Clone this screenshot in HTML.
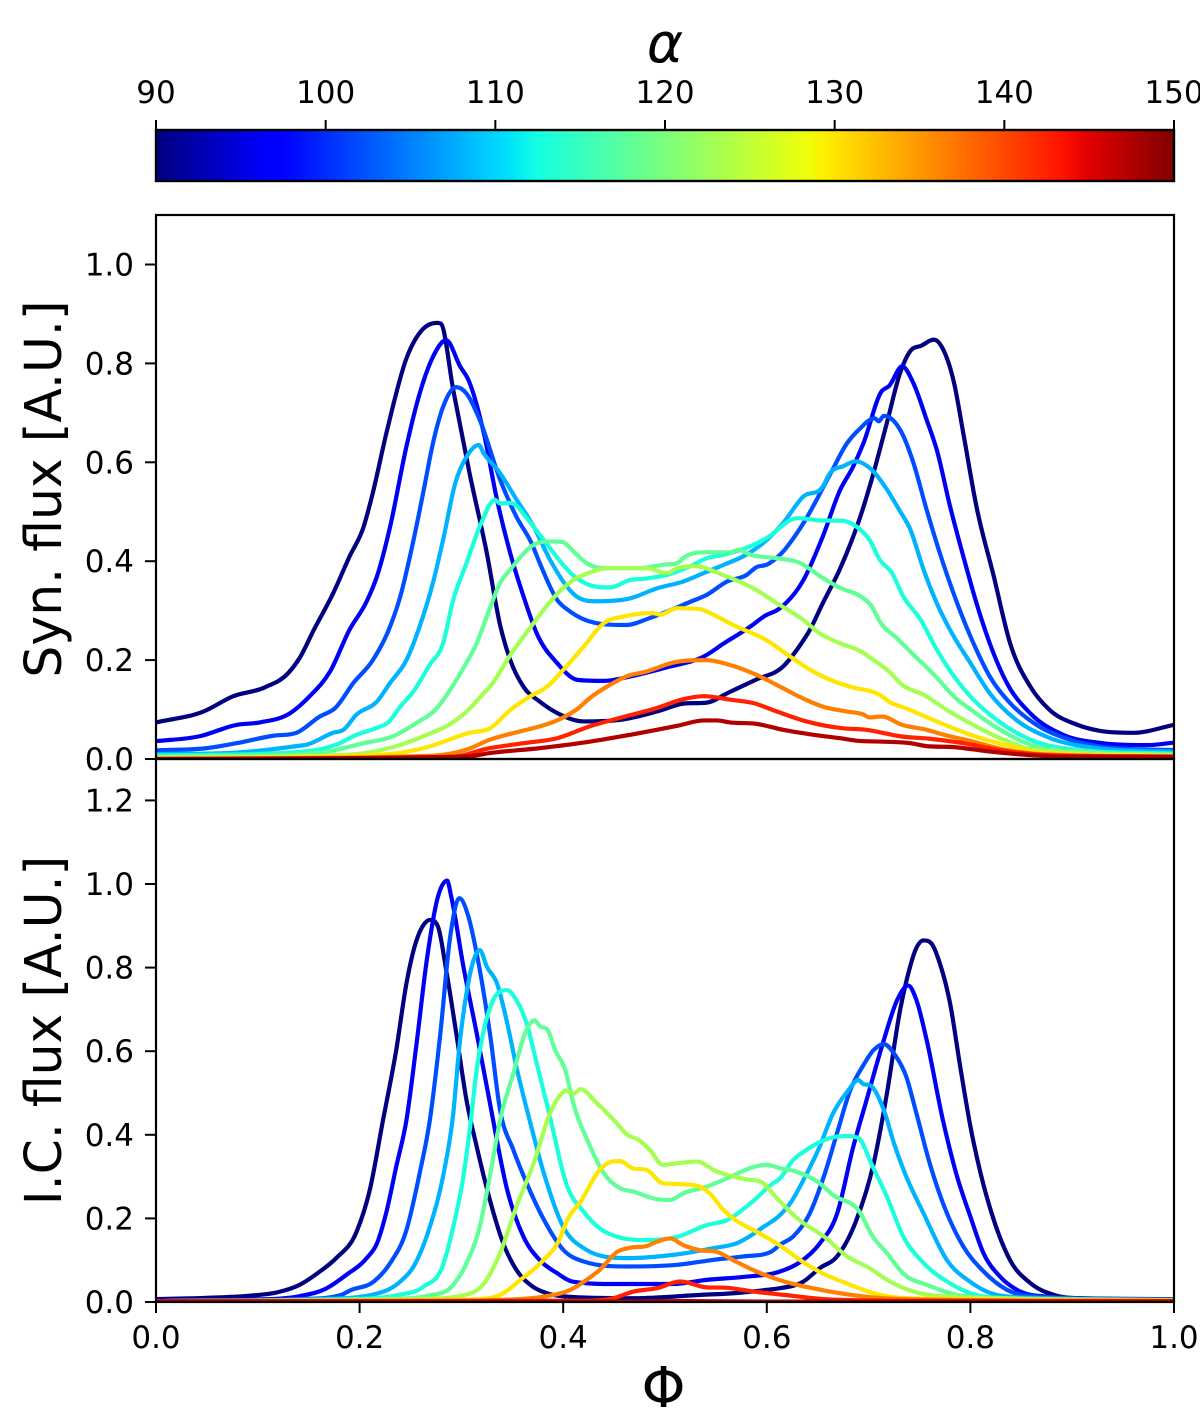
<!DOCTYPE html>
<html lang="en">
<head>
<meta charset="utf-8">
<title>Synchrotron and inverse Compton light curves</title>
<style>
html,body{margin:0;padding:0;background:#fff;width:1200px;height:1409px;overflow:hidden}
svg{display:block}
text{font-family:"DejaVu Sans","Liberation Sans",sans-serif;fill:#000}
</style>
</head>
<body>
<svg id="figure" xmlns="http://www.w3.org/2000/svg" width="1200" height="1409" viewBox="0 0 1200 1409">
<defs>
<linearGradient id="jetGradient" x1="0" x2="1" y1="0" y2="0"></linearGradient>
<clipPath id="clipTop"><rect x="156" y="215" width="1018" height="544"/></clipPath>
<clipPath id="clipBottom"><rect x="156" y="759" width="1018" height="543"/></clipPath>
</defs>
<rect x="0" y="0" width="1200" height="1409" fill="#fff"/>
<text x="665" y="62" font-size="55" font-style="italic" text-anchor="middle">α</text>
<rect x="156" y="130" width="1018" height="51" fill="url(#jetGradient)" stroke="#000" stroke-width="2.4"/>
<g id="colorbarTicks"></g>
<g id="synSeries" clip-path="url(#clipTop)" fill="none" stroke-width="4.2" stroke-linejoin="round" stroke-linecap="round"></g>
<g id="icSeries" clip-path="url(#clipBottom)" fill="none" stroke-width="4.2" stroke-linejoin="round" stroke-linecap="round"></g>
<rect x="156" y="215" width="1018" height="544" fill="none" stroke="#000" stroke-width="2.2"/>
<rect x="156" y="759" width="1018" height="543" fill="none" stroke="#000" stroke-width="2.2"/>
<g id="synTicks"></g>
<g id="icTicks"></g>
<g id="xTicks"></g>
<text transform="translate(61,489) rotate(-90)" font-size="50.4" text-anchor="middle">Syn. flux [A.U.]</text>
<text transform="translate(61,1030.5) rotate(-90)" font-size="50.4" text-anchor="middle">I.C. flux [A.U.]</text>
<text x="663.5" y="1407" font-size="56" text-anchor="middle">Φ</text>
</svg>
<script>
// Viewing-angle value of each curve
const alphas = [90, 96, 102, 108, 113, 118, 123, 130, 136.5, 142.5, 147.5];
const colorbarTickValues = [90, 100, 110, 120, 130, 140, 150];
const xTickValues = [0, 0.2, 0.4, 0.6, 0.8, 1.0];
const synTickValues = [0, 0.2, 0.4, 0.6, 0.8, 1.0];
const icTickValues = [0, 0.2, 0.4, 0.6, 0.8, 1.0, 1.2];

// Synchrotron panel: phase and flux
const synPhi90 = [0,.0465,.076,.107,.13,.141,.155,.174,.19,.204,.212,.227,.246,.263,.276,.28,.292,.308,.325,.338,.348,.361,.377,.394,.42,.459,.492,.518,.541,.564,.59,.616,.632,.642,.655,.672,.692,.703,.718,.731,.741,.752,.764,.774,.784,.793,.806,.823,.839,.859,.878,.904,.927,.96,1];
const synFlux90 = [.074,.096,.127,.145,.174,.204,.261,.335,.409,.47,.53,.665,.81,.871,.882,.88,.746,.578,.416,.271,.2,.146,.116,.093,.076,.08,.096,.112,.114,.136,.161,.187,.228,.26,.315,.385,.491,.565,.68,.781,.825,.836,.848,.825,.76,.659,.51,.369,.234,.146,.099,.07,.057,.053,.069];
const synPhi96 = [0,.043,.079,.102,.132,.151,.171,.19,.207,.217,.23,.246,.259,.272,.285,.299,.307,.322,.335,.348,.361,.374,.394,.414,.44,.466,.505,.538,.558,.584,.597,.613,.636,.655,.672,.685,.695,.713,.72,.733,.744,.757,.767,.78,.793,.806,.819,.836,.859,.891,.93,.973,1];
const synFlux96 = [.036,.046,.069,.074,.093,.127,.177,.261,.319,.369,.47,.632,.739,.813,.847,.793,.766,.659,.524,.416,.329,.254,.194,.16,.158,.167,.187,.207,.234,.268,.288,.305,.362,.45,.544,.592,.639,.744,.754,.794,.76,.686,.625,.511,.41,.315,.234,.153,.092,.049,.032,.028,.033];
const synPhi102 = [0,.05,.079,.115,.138,.161,.176,.194,.213,.228,.24,.253,.263,.272,.282,.295,.305,.318,.338,.354,.369,.377,.394,.407,.43,.462,.485,.525,.541,.561,.58,.59,.6,.613,.636,.662,.679,.69,.706,.71,.715,.733,.744,.757,.77,.787,.803,.819,.839,.865,.898,.941,1];
const synFlux102 = [.0175,.022,.032,.047,.053,.086,.103,.154,.2,.258,.329,.443,.544,.638,.712,.752,.739,.686,.565,.49,.436,.396,.322,.298,.276,.271,.285,.318,.332,.359,.372,.388,.393,.413,.477,.575,.639,.665,.689,.683,.694,.658,.599,.504,.416,.315,.234,.167,.113,.069,.039,.022,.018];
const synPhi108 = [0,.07,.138,.148,.174,.184,.197,.217,.23,.246,.259,.272,.282,.294,.305,.317,.322,.338,.354,.371,.387,.413,.433,.466,.492,.518,.538,.558,.577,.6,.616,.636,.655,.662,.675,.687,.703,.718,.73,.741,.754,.767,.78,.8,.819,.845,.875,.924,1];
const synFlux108 = [.01,.012,.026,.029,.053,.059,.09,.116,.154,.2,.268,.356,.443,.558,.611,.635,.618,.578,.525,.47,.403,.329,.319,.325,.345,.359,.376,.393,.41,.443,.477,.531,.551,.578,.592,.602,.585,.545,.504,.464,.383,.315,.261,.194,.133,.079,.045,.022,.015];
const synPhi113 = [0,.145,.177,.197,.217,.228,.24,.253,.269,.282,.292,.305,.318,.333,.338,.348,.367,.383,.413,.423,.446,.466,.482,.505,.525,.541,.558,.587,.6,.63,.656,.672,.69,.701,.711,.723,.734,.751,.767,.784,.803,.826,.859,.908,1];
const synFlux113 = [.007,.015,.029,.049,.063,.074,.106,.137,.191,.234,.322,.396,.47,.524,.517,.518,.48,.437,.366,.354,.347,.362,.365,.374,.39,.406,.413,.433,.447,.487,.482,.482,.467,.443,.403,.376,.329,.282,.221,.167,.12,.079,.039,.018,.011];
const synPhi118 = [0,.158,.204,.233,.256,.276,.289,.302,.315,.328,.338,.348,.371,.384,.399,.41,.423,.44,.473,.499,.512,.519,.538,.564,.572,.584,.61,.632,.655,.672,.692,.703,.711,.728,.744,.766,.784,.803,.826,.859,.908,1];
const synFlux118 = [.004,.012,.032,.046,.073,.103,.14,.184,.234,.305,.356,.383,.433,.44,.439,.42,.396,.386,.386,.393,.396,.408,.418,.418,.423,.413,.406,.397,.366,.346,.329,.309,.278,.244,.211,.167,.126,.096,.063,.029,.015,.008];
const synPhi123 = [0,.191,.236,.272,.285,.305,.322,.328,.348,.371,.39,.41,.426,.443,.482,.502,.512,.529,.557,.587,.61,.636,.652,.672,.692,.705,.72,.733,.754,.777,.8,.826,.865,1];
const synFlux123 = [.003,.009,.026,.054,.066,.096,.133,.146,.21,.275,.325,.362,.377,.386,.386,.376,.386,.39,.372,.345,.315,.281,.254,.234,.218,.2,.177,.15,.13,.099,.072,.045,.018,.008];
const synPhi130 = [0,.223,.263,.308,.328,.348,.367,.384,.4,.42,.44,.459,.488,.495,.512,.534,.551,.567,.6,.623,.643,.659,.682,.713,.72,.736,.767,.8,.833,.875,1];
const synFlux130 = [.001,.009,.022,.053,.062,.099,.126,.146,.18,.227,.275,.288,.295,.292,.305,.303,.288,.271,.24,.207,.18,.163,.146,.127,.116,.103,.076,.049,.029,.012,.006];
const synPhi137 = [0,.272,.305,.328,.358,.377,.394,.415,.426,.446,.462,.482,.508,.541,.564,.59,.616,.635,.655,.679,.695,.701,.713,.733,.757,.774,.803,.833,.891,1];
const synFlux137 = [0,.007,.019,.039,.056,.066,.078,.103,.123,.15,.167,.177,.195,.2,.19,.17,.143,.123,.106,.096,.09,.084,.086,.069,.059,.049,.035,.019,.008,.005];
const synPhi143 = [0,.289,.328,.361,.394,.426,.459,.492,.518,.538,.564,.587,.61,.639,.675,.698,.716,.731,.76,.793,.826,.875,1];
const synFlux143 = [0,.004,.022,.032,.042,.066,.085,.103,.121,.127,.12,.113,.096,.076,.062,.059,.052,.046,.041,.032,.019,.008,.005];
const synPhi148 = [0,.305,.328,.377,.426,.466,.512,.538,.551,.564,.59,.616,.646,.672,.688,.715,.741,.757,.784,.819,.891,1];
const synFlux148 = [0,.005,.012,.022,.035,.049,.067,.078,.078,.074,.071,.059,.049,.042,.037,.035,.032,.026,.024,.015,.005,.004];

// Inverse Compton panel: phase and flux
const icPhi90 = [0,.05,.092,.119,.141,.161,.177,.197,.21,.223,.236,.246,.254,.264,.269,.277,.285,.295,.305,.315,.328,.341,.354,.37,.384,.403,.469,.535,.567,.6,.613,.636,.652,.669,.688,.705,.718,.731,.739,.746,.754,.762,.77,.78,.79,.8,.81,.823,.839,.859,.882,.908,1];
const icFlux90 = [.007,.01,.015,.023,.041,.073,.105,.168,.268,.435,.603,.762,.85,.906,.914,.898,.795,.642,.483,.372,.244,.141,.077,.037,.021,.013,.009,.017,.021,.029,.033,.049,.081,.109,.196,.332,.499,.699,.786,.842,.865,.857,.81,.715,.563,.42,.308,.196,.1,.045,.017,.009,.007];
const icPhi96 = [0,.092,.141,.167,.187,.207,.217,.226,.236,.246,.256,.266,.277,.286,.29,.302,.315,.328,.345,.361,.377,.394,.409,.453,.508,.541,.577,.613,.633,.652,.669,.685,.698,.715,.728,.739,.747,.757,.773,.786,.8,.813,.829,.849,.875,.908,1];
const icFlux96 = [.004,.006,.014,.032,.065,.105,.14,.212,.324,.435,.619,.818,.97,1.008,.97,.802,.643,.476,.268,.156,.1,.069,.049,.043,.043,.053,.06,.073,.096,.14,.211,.372,.483,.627,.722,.757,.722,.627,.435,.308,.204,.116,.061,.025,.013,.009,.006];
const icPhi102 = [0,.141,.181,.191,.214,.23,.246,.259,.269,.279,.289,.298,.307,.315,.328,.338,.351,.364,.381,.4,.42,.463,.512,.548,.577,.604,.613,.626,.642,.656,.669,.682,.695,.705,.715,.726,.737,.747,.76,.777,.793,.813,.836,.868,1];
const icFlux102 = [.002,.007,.016,.028,.049,.093,.172,.308,.435,.635,.874,.966,.921,.834,.643,.459,.364,.285,.197,.125,.097,.085,.089,.101,.109,.12,.137,.157,.211,.3,.404,.507,.567,.603,.617,.591,.539,.451,.332,.212,.133,.073,.029,.013,.005];
const icPhi108 = [0,.158,.217,.24,.254,.269,.282,.292,.298,.305,.312,.318,.325,.335,.345,.354,.367,.381,.4,.42,.463,.509,.548,.571,.597,.613,.623,.636,.652,.665,.679,.69,.695,.701,.715,.725,.737,.754,.777,.8,.826,.875,1];
const icFlux108 = [.002,.007,.02,.049,.089,.18,.301,.451,.611,.739,.818,.842,.802,.762,.667,.563,.435,.308,.18,.129,.105,.113,.129,.141,.18,.208,.236,.292,.372,.451,.503,.531,.521,.519,.459,.379,.3,.212,.1,.048,.017,.009,.005];
const icPhi113 = [0,.19,.236,.263,.282,.292,.302,.309,.315,.322,.333,.345,.354,.364,.374,.387,.403,.42,.436,.453,.479,.512,.541,.561,.584,.604,.613,.626,.636,.649,.662,.678,.69,.704,.718,.734,.754,.777,.8,.842,1];
const icFlux113 = [.002,.007,.016,.037,.089,.18,.301,.428,.555,.65,.73,.746,.722,.667,.571,.443,.283,.216,.176,.156,.148,.156,.184,.196,.236,.28,.296,.34,.359,.379,.392,.397,.392,.324,.252,.157,.093,.049,.021,.009,.005];
const icPhi118 = [0,.223,.269,.292,.305,.318,.328,.338,.351,.364,.372,.377,.385,.392,.402,.41,.425,.44,.456,.469,.492,.505,.518,.541,.561,.59,.6,.613,.629,.652,.665,.691,.704,.718,.734,.757,.787,.826,1];
const icFlux118 = [.002,.007,.016,.041,.093,.18,.301,.435,.547,.651,.674,.66,.65,.603,.555,.475,.38,.308,.272,.264,.246,.244,.26,.276,.296,.325,.328,.32,.312,.284,.256,.216,.157,.117,.068,.041,.017,.009,.004];
const icPhi123 = [0,.256,.302,.322,.338,.354,.371,.387,.397,.403,.41,.417,.433,.451,.463,.474,.485,.498,.512,.531,.551,.581,.594,.61,.633,.656,.679,.701,.718,.744,.777,1];
const icFlux123 = [.002,.007,.016,.044,.117,.228,.332,.451,.495,.506,.498,.509,.476,.432,.4,.388,.364,.328,.332,.336,.312,.293,.288,.248,.194,.157,.109,.081,.053,.025,.013,.004];
const icPhi130 = [0,.305,.338,.358,.381,.396,.404,.417,.438,.448,.456,.468,.482,.498,.515,.534,.544,.556,.567,.593,.616,.633,.652,.679,.705,.738,1];
const icFlux130 = [.002,.006,.017,.053,.101,.148,.196,.24,.322,.336,.337,.32,.316,.284,.282,.276,.26,.224,.2,.164,.13,.1,.072,.044,.021,.009,.004];
const icPhi137 = [0,.3,.338,.381,.407,.423,.436,.453,.466,.482,.492,.505,.518,.534,.551,.567,.587,.617,.639,.662,.7,.75,1];
const icFlux137 = [.002,.003,.005,.013,.029,.053,.077,.12,.13,.134,.144,.152,.136,.124,.12,.1,.076,.049,.036,.025,.012,.006,.003];
const icPhi143 = [0,.42,.449,.469,.492,.515,.541,.561,.587,.617,.662,.75,1];
const icFlux143 = [.002,.003,.009,.025,.033,.049,.035,.034,.025,.017,.006,.003,.002];
const icPhi148 = [0,.45,.52,.6,1];
const icFlux148 = [.001,.001,.002,.001,.001];

const synPhis = [synPhi90,synPhi96,synPhi102,synPhi108,synPhi113,synPhi118,synPhi123,synPhi130,synPhi137,synPhi143,synPhi148];
const synFluxes = [synFlux90,synFlux96,synFlux102,synFlux108,synFlux113,synFlux118,synFlux123,synFlux130,synFlux137,synFlux143,synFlux148];
const icPhis = [icPhi90,icPhi96,icPhi102,icPhi108,icPhi113,icPhi118,icPhi123,icPhi130,icPhi137,icPhi143,icPhi148];
const icFluxes = [icFlux90,icFlux96,icFlux102,icFlux108,icFlux113,icFlux118,icFlux123,icFlux130,icFlux137,icFlux143,icFlux148];

const SVGNS = 'http://www.w3.org/2000/svg';
const plotLeft = 156, plotWidth = 1018;
function xScale(phi){ return plotLeft + plotWidth * phi; }
function alphaScale(a){ return plotLeft + plotWidth * (a - 90) / 60; }
function ySyn(v){ return 759 - 494.5 * v; }
function yIc(v){ return 1302 - 418 * v; }

function interp(knots, t){
  for (let i = 1; i < knots.length; i++) {
    if (t <= knots[i][0]) {
      const a = knots[i-1], b = knots[i];
      return a[1] + (b[1]-a[1]) * (t-a[0]) / (b[0]-a[0]);
    }
  }
  return knots[knots.length-1][1];
}
const jetR = [[0,0],[.35,0],[.66,1],[.89,1],[1,.5]];
const jetG = [[0,0],[.125,0],[.375,1],[.64,1],[.91,0],[1,0]];
const jetB = [[0,.5],[.11,1],[.34,1],[.65,0],[1,0]];
function jet(t){
  const c = k => Math.round(255 * interp(k, t));
  return 'rgb(' + c(jetR) + ',' + c(jetG) + ',' + c(jetB) + ')';
}

// Cubic path through the data points with limited, non-overshooting tangents
function curvePath(phis, fluxes, yFn){
  const n = Math.min(phis.length, fluxes.length);
  const xs = [], ys = [];
  for (let i = 0; i < n; i++) { xs.push(xScale(phis[i])); ys.push(yFn(fluxes[i])); }
  const d = [], m = new Array(n).fill(0);
  for (let i = 0; i < n-1; i++) d.push((ys[i+1]-ys[i]) / Math.max(xs[i+1]-xs[i], 1e-6));
  m[0] = d[0]; m[n-1] = d[n-2];
  for (let i = 1; i < n-1; i++) {
    if (d[i-1] * d[i] <= 0) { m[i] = 0; continue; }
    const h0 = xs[i]-xs[i-1], h1 = xs[i+1]-xs[i];
    const p = (d[i-1]*h1 + d[i]*h0) / (h0+h1);
    const limit = 3 * Math.min(Math.abs(d[i-1]), Math.abs(d[i]));
    m[i] = Math.sign(p) * Math.min(Math.abs(p), limit);
  }
  let path = 'M' + xs[0].toFixed(2) + ' ' + ys[0].toFixed(2);
  for (let i = 0; i < n-1; i++) {
    const h = (xs[i+1]-xs[i]) / 3;
    path += 'C' + (xs[i]+h).toFixed(2) + ' ' + (ys[i]+m[i]*h).toFixed(2) + ' ' +
      (xs[i+1]-h).toFixed(2) + ' ' + (ys[i+1]-m[i+1]*h).toFixed(2) + ' ' +
      xs[i+1].toFixed(2) + ' ' + ys[i+1].toFixed(2);
  }
  return path;
}

function addLine(parent, x1, y1, x2, y2){
  const el = document.createElementNS(SVGNS, 'line');
  
  
  el.setAttribute('x1', x1); el.setAttribute('y1', y1);
  el.setAttribute('x2', x2); el.setAttribute('y2', y2);
  el.setAttribute('stroke', '#000'); el.setAttribute('stroke-width', '2');
  parent.appendChild(el);
}
function addLabel(parent, x, y, anchor, str){
  const el = document.createElementNS(SVGNS, 'text');
  
  
  el.setAttribute('x', x); el.setAttribute('y', y);
  el.setAttribute('font-size', '31');
  el.setAttribute('text-anchor', anchor);
  el.textContent = str;
  parent.appendChild(el);
}

// Colorbar gradient
const gradient = document.getElementById('jetGradient');
for (let i = 0; i <= 128; i++) {
  const stop = document.createElementNS(SVGNS, 'stop');
  stop.setAttribute('offset', (i / 128).toFixed(4));
  stop.setAttribute('stop-color', jet(i / 128));
  gradient.appendChild(stop);
}

// Ticks
const cbGroup = document.getElementById('colorbarTicks');
colorbarTickValues.forEach(v => {
  addLine(cbGroup, alphaScale(v), 120, alphaScale(v), 130);
  addLabel(cbGroup, alphaScale(v), 103, 'middle', String(v));
});
const synGroup = document.getElementById('synTicks');
synTickValues.forEach(v => {
  addLine(synGroup, 145, ySyn(v), 156, ySyn(v));
  addLabel(synGroup, 134, ySyn(v) + 11, 'end', v.toFixed(1));
});
const icGroup = document.getElementById('icTicks');
icTickValues.forEach(v => {
  addLine(icGroup, 145, yIc(v), 156, yIc(v));
  addLabel(icGroup, 134, yIc(v) + 11, 'end', v.toFixed(1));
});
const xGroup = document.getElementById('xTicks');
xTickValues.forEach(v => {
  addLine(xGroup, xScale(v), 1302, xScale(v), 1313);
  addLabel(xGroup, xScale(v), 1348, 'middle', v.toFixed(1));
});

// Curves
const synGroupLines = document.getElementById('synSeries');
const icGroupLines = document.getElementById('icSeries');
alphas.forEach((a, i) => {
  const color = jet((a - 90) / 60);
  const synLine = document.createElementNS(SVGNS, 'path');
  
  
  synLine.setAttribute('d', curvePath(synPhis[i], synFluxes[i], ySyn));
  synLine.setAttribute('stroke', color);
  synGroupLines.appendChild(synLine);
  const icLine = document.createElementNS(SVGNS, 'path');
  
  
  icLine.setAttribute('d', curvePath(icPhis[i], icFluxes[i], yIc));
  icLine.setAttribute('stroke', color);
  icGroupLines.appendChild(icLine);
});
</script>
</body>
</html>
